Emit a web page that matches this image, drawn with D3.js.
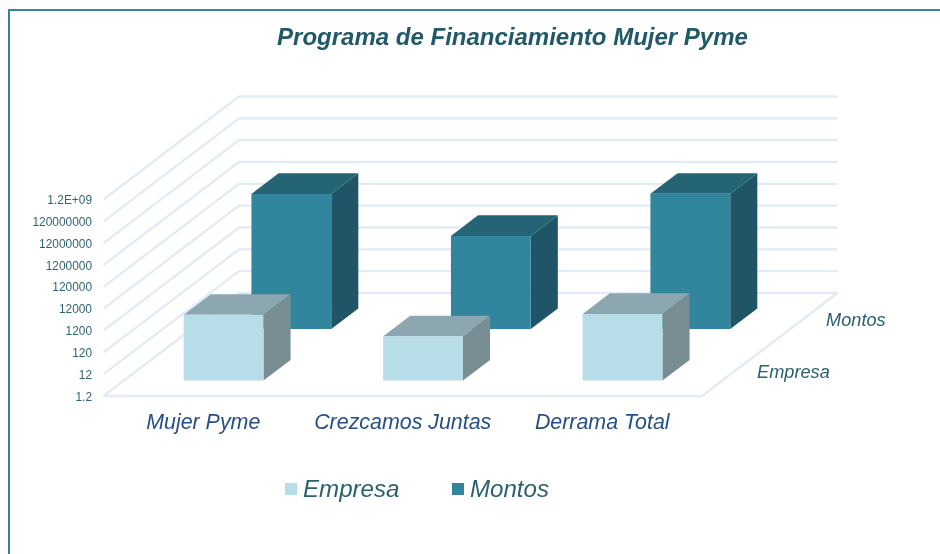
<!DOCTYPE html>
<html><head><meta charset="utf-8">
<script src="https://cdn.jsdelivr.net/npm/d3@7/dist/d3.min.js"></script>
<style>html,body{margin:0;padding:0;background:#fff}svg{display:block;filter:blur(0.35px)}text{font-family:"Liberation Sans",Arial,sans-serif}</style>
</head><body><svg id="c" width="940" height="554"></svg>
<script>
const title = "Programa de Financiamiento Mujer Pyme";
const categories = ["Mujer Pyme", "Crezcamos Juntas", "Derrama Total"];
const seriesNames = ["Empresa", "Montos"];
const empresa = [1225, 128, 1353];
const montos = [1860000, 22000, 1882000];
const tickLabels = ["1.2", "12", "120", "1200", "12000", "120000", "1200000", "12000000", "120000000", "1.2E+09"];
const tickValues = [1.2, 12, 120, 1200, 12000, 120000, 1200000, 12000000, 120000000, 1200000000];
const seriesColors = {Empresa:{front:"#b7dde8",top:"#8ca7af",side:"#788e94"},Montos:{front:"#31859c",top:"#256475",side:"#1f5566"}};

const svg = d3.select("#c");
const W = 940, H = 554;
// chart frame: only the top and left edges fall inside the picture
svg.append("path").attr("d",`M9,${H}V10H${W}`).attr("fill","none").attr("stroke","#31859c").attr("stroke-width",2);

// Oblique projection: x band along the front, depth band into the page, log height
const x = d3.scaleBand().domain(categories).range([103.5,702]).paddingInner(0.6).paddingOuter(0.3);
const z = d3.scaleBand().domain(seriesNames).range([0,1]).paddingInner(0.6).paddingOuter(0.3);
const y = d3.scaleLog().domain([1.2,1.2e9]).range([0,196.5]);
const depthX = 135.5, depthY = 103, baseY = 396;
const P = (px,d,v) => [px + d*depthX, baseY - d*depthY - (v==null?0:y(v))];
const poly = pts => "M"+pts.map(p=>p.join(",")).join("L")+"Z";

const grid = svg.append("g").attr("fill","none").attr("stroke","#e3ebf6").attr("stroke-width",2.4);
const x0 = x.range()[0], x1 = x.range()[1];
tickValues.forEach(t=>{
  grid.append("path").attr("d","M"+[P(x0,0,t),P(x0,1,t),P(x1,1,t)].map(p=>p.join(",")).join("L"));
});
grid.append("path").attr("d","M"+[P(x0,0,1.2),P(x1,0,1.2),P(x1,1,1.2)].map(p=>p.join(",")).join("L"));

// y tick labels
svg.append("g").selectAll("text").data(tickValues).join("text")
  .attr("x",92).attr("y",t=>P(x0,0,t)[1]+4.5).attr("text-anchor","end")
  .attr("font-size",11.9).attr("fill","#2f6473").text((t,i)=>tickLabels[i]);

// bars: back series first
const drawBar=(name,vals)=>{
  const c=seriesColors[name], d0=z(name), d1=d0+z.bandwidth(), g=svg.append("g");
  categories.forEach((cat,i)=>{
    const a=x(cat), b=a+x.bandwidth(), v=vals[i];
    g.append("path").attr("fill",c.side).attr("d",poly([P(b,d0,1.2),P(b,d1,1.2),P(b,d1,v),P(b,d0,v)]));
    g.append("path").attr("fill",c.top).attr("d",poly([P(a,d0,v),P(b,d0,v),P(b,d1,v),P(a,d1,v)]));
    g.append("path").attr("fill",c.front).attr("d",poly([P(a,d0,1.2),P(b,d0,1.2),P(b,d0,v),P(a,d0,v)]));
  });
};
drawBar("Montos",montos);
drawBar("Empresa",empresa);

// category labels
svg.append("g").selectAll("text").data(categories).join("text")
  .attr("x",c=>x(c)+x.bandwidth()/2).attr("y",429).attr("text-anchor","middle")
  .attr("font-size",21.4).attr("font-style","italic").attr("fill","#254f85").text(c=>c);

// depth labels
const depthLabel=[{n:"Empresa",px:757,py:378},{n:"Montos",px:826,py:326}];
svg.append("g").selectAll("text").data(depthLabel).join("text")
  .attr("x",d=>d.px).attr("y",d=>d.py).attr("font-size",18.2).attr("font-style","italic").attr("fill","#296170").text(d=>d.n);

// title
svg.append("text").attr("x",512.5).attr("y",45).attr("text-anchor","middle").attr("font-size",24).attr("font-weight","bold").attr("font-style","italic").attr("fill","#215968").text(title);

// legend
const legend=[{n:"Empresa",sx:285,tx:303},{n:"Montos",sx:452,tx:470}];
const lg=svg.append("g");
lg.selectAll("rect").data(legend).join("rect").attr("x",d=>d.sx).attr("y",483).attr("width",12).attr("height",12).attr("fill",d=>seriesColors[d.n].front);
lg.selectAll("text").data(legend).join("text").attr("x",d=>d.tx).attr("y",497).attr("font-size",24.1).attr("font-style","italic").attr("fill","#296170").text(d=>d.n);
</script></body></html>
